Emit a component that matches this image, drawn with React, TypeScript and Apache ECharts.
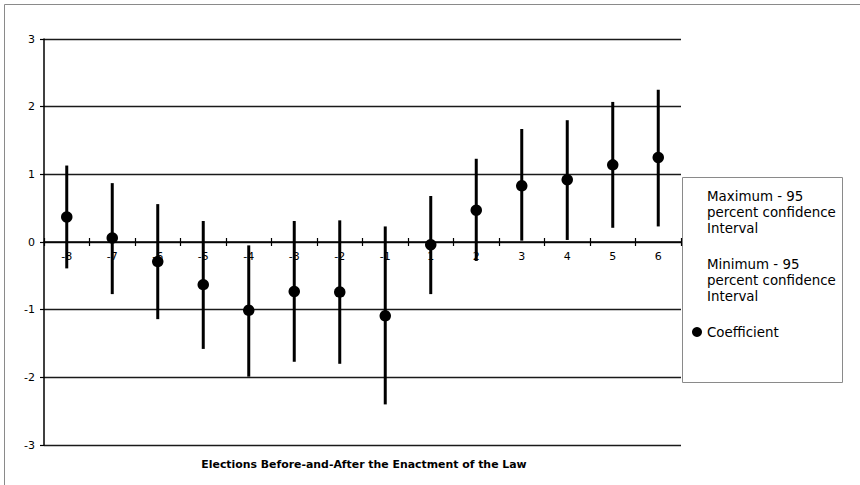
import React, { useEffect, useRef } from "react";
import * as echarts from "echarts";

const categories = ["-8", "-7", "-6", "-5", "-4", "-3", "-2", "-1", "1", "2", "3", "4", "5", "6"];
const coefficient = [0.37, 0.06, -0.29, -0.63, -1.01, -0.73, -0.74, -1.09, -0.04, 0.47, 0.83, 0.92, 1.14, 1.25];
const maximum95 = [1.13, 0.87, 0.56, 0.31, -0.05, 0.31, 0.32, 0.23, 0.68, 1.23, 1.67, 1.80, 2.07, 2.25];
const minimum95 = [-0.39, -0.77, -1.14, -1.58, -1.99, -1.77, -1.80, -2.40, -0.77, -0.28, 0.02, 0.03, 0.21, 0.23];
const yTicks = { min: -3, max: 3, interval: 1 };

const MAX_NAME = "Maximum - 95 percent confidence Interval";
const MIN_NAME = "Minimum - 95 percent confidence Interval";
const COEF_NAME = "Coefficient";
const legendLabels: Record<string, string> = {
  [MAX_NAME]: "Maximum - 95\npercent confidence\nInterval",
  [MIN_NAME]: "Minimum - 95\npercent confidence\nInterval",
  [COEF_NAME]: "Coefficient",
};

const FONT = "'DejaVu Sans', Verdana, sans-serif";
const GRID = { left: 44, right: 179, top: 39, bottom: 40 };
const PLOT_H = 485 - GRID.top - GRID.bottom;
const ZERO_OFFSET = -PLOT_H * (0 - yTicks.min) / (yTicks.max - yTicks.min);

function segment(params: any, api: any) {
  const x = api.value(0);
  const lo = api.value(1);
  const hi = api.value(2);
  const p1 = api.coord([x, lo]);
  const p2 = api.coord([x, hi]);
  return {
    type: "line",
    shape: { x1: p1[0], y1: p1[1], x2: p2[0], y2: p2[1] },
    style: { stroke: "#000", lineWidth: 3 },
  };
}

export default function App() {
  const ref = useRef<HTMLDivElement>(null);
  useEffect(() => {
    document.body.style.margin = "0";
    const chart = echarts.init(ref.current!, null, { renderer: "svg" });
    chart.setOption({
      animation: false,
      backgroundColor: "#fff",
      grid: GRID,
      xAxis: [
        {
          type: "category",
          data: categories,
          position: "bottom",
          offset: ZERO_OFFSET,
          boundaryGap: true,
          axisLine: { onZero: false, lineStyle: { color: "#000", width: 1.5 } },
          axisTick: { show: true, interval: 0, length: 4, lineStyle: { color: "#000", width: 1.2 } },
          axisLabel: { interval: 0, margin: 9, color: "#000", fontSize: 11, fontFamily: FONT },
          splitLine: { show: false },
        },
        {
          type: "category",
          data: categories,
          position: "bottom",
          offset: ZERO_OFFSET,
          boundaryGap: true,
          axisLine: { show: false, onZero: false },
          axisTick: { show: true, inside: true, interval: 0, length: 4, lineStyle: { color: "#000", width: 1.2 } },
          axisLabel: { show: false },
          splitLine: { show: false },
        },
      ],
      yAxis: {
        type: "value",
        min: yTicks.min,
        max: yTicks.max,
        interval: yTicks.interval,
        axisLine: { show: true, onZero: false, lineStyle: { color: "#000", width: 1.5 } },
        axisTick: { show: true, length: 4, lineStyle: { color: "#000", width: 1.2 } },
        axisLabel: { margin: 9, color: "#000", fontSize: 11, fontFamily: FONT },
        splitLine: { show: true, lineStyle: { color: "#1a1a1a", width: 1.3 } },
      },
      legend: {
        orient: "vertical",
        left: 692,
        top: 188,
        padding: 0,
        itemWidth: 10,
        itemHeight: 10,
        itemGap: 20,
        selectedMode: false,
        formatter: (n: string) => legendLabels[n] ?? n,
        textStyle: { color: "#000", fontSize: 13.4, lineHeight: 16, fontFamily: FONT },
        data: [
          { name: MAX_NAME, icon: "rect", itemStyle: { opacity: 0 } },
          { name: MIN_NAME, icon: "rect", itemStyle: { opacity: 0 } },
          { name: COEF_NAME, icon: "circle", itemStyle: { color: "#000" } },
        ],
      },
      graphic: [
        {
          type: "rect",
          z: -10,
          silent: true,
          shape: { x: 4.5, y: 4.5, width: 900, height: 600 },
          style: { fill: "none", stroke: "#8a8a8a", lineWidth: 1 },
        },
        {
          type: "rect",
          z: -5,
          silent: true,
          shape: { x: 682.5, y: 177.5, width: 160, height: 205 },
          style: { fill: "#fff", stroke: "#8a8a8a", lineWidth: 1 },
        },
        {
          type: "text",
          x: 364,
          y: 464,
          style: {
            text: "Elections Before-and-After the Enactment of the Law",
            textAlign: "center",
            textVerticalAlign: "middle",
            font: `bold 10.9px ${FONT}`,
            fill: "#000",
          },
        },
      ],
      series: [
        {
          name: MAX_NAME,
          type: "custom",
          renderItem: segment,
          encode: { x: 0, y: [1, 2] },
          itemStyle: { color: "#000" },
          data: categories.map((_, i) => [i, coefficient[i], maximum95[i]]),
          z: 2,
        },
        {
          name: MIN_NAME,
          type: "custom",
          renderItem: segment,
          encode: { x: 0, y: [1, 2] },
          itemStyle: { color: "#000" },
          data: categories.map((_, i) => [i, minimum95[i], coefficient[i]]),
          z: 2,
        },
        {
          name: COEF_NAME,
          type: "scatter",
          symbol: "circle",
          symbolSize: 11.5,
          itemStyle: { color: "#000", opacity: 1 },
          data: coefficient,
          z: 3,
        },
      ],
    });
    return () => chart.dispose();
  }, []);
  return <div ref={ref} style={{ width: 860, height: 485 }} />;
}
